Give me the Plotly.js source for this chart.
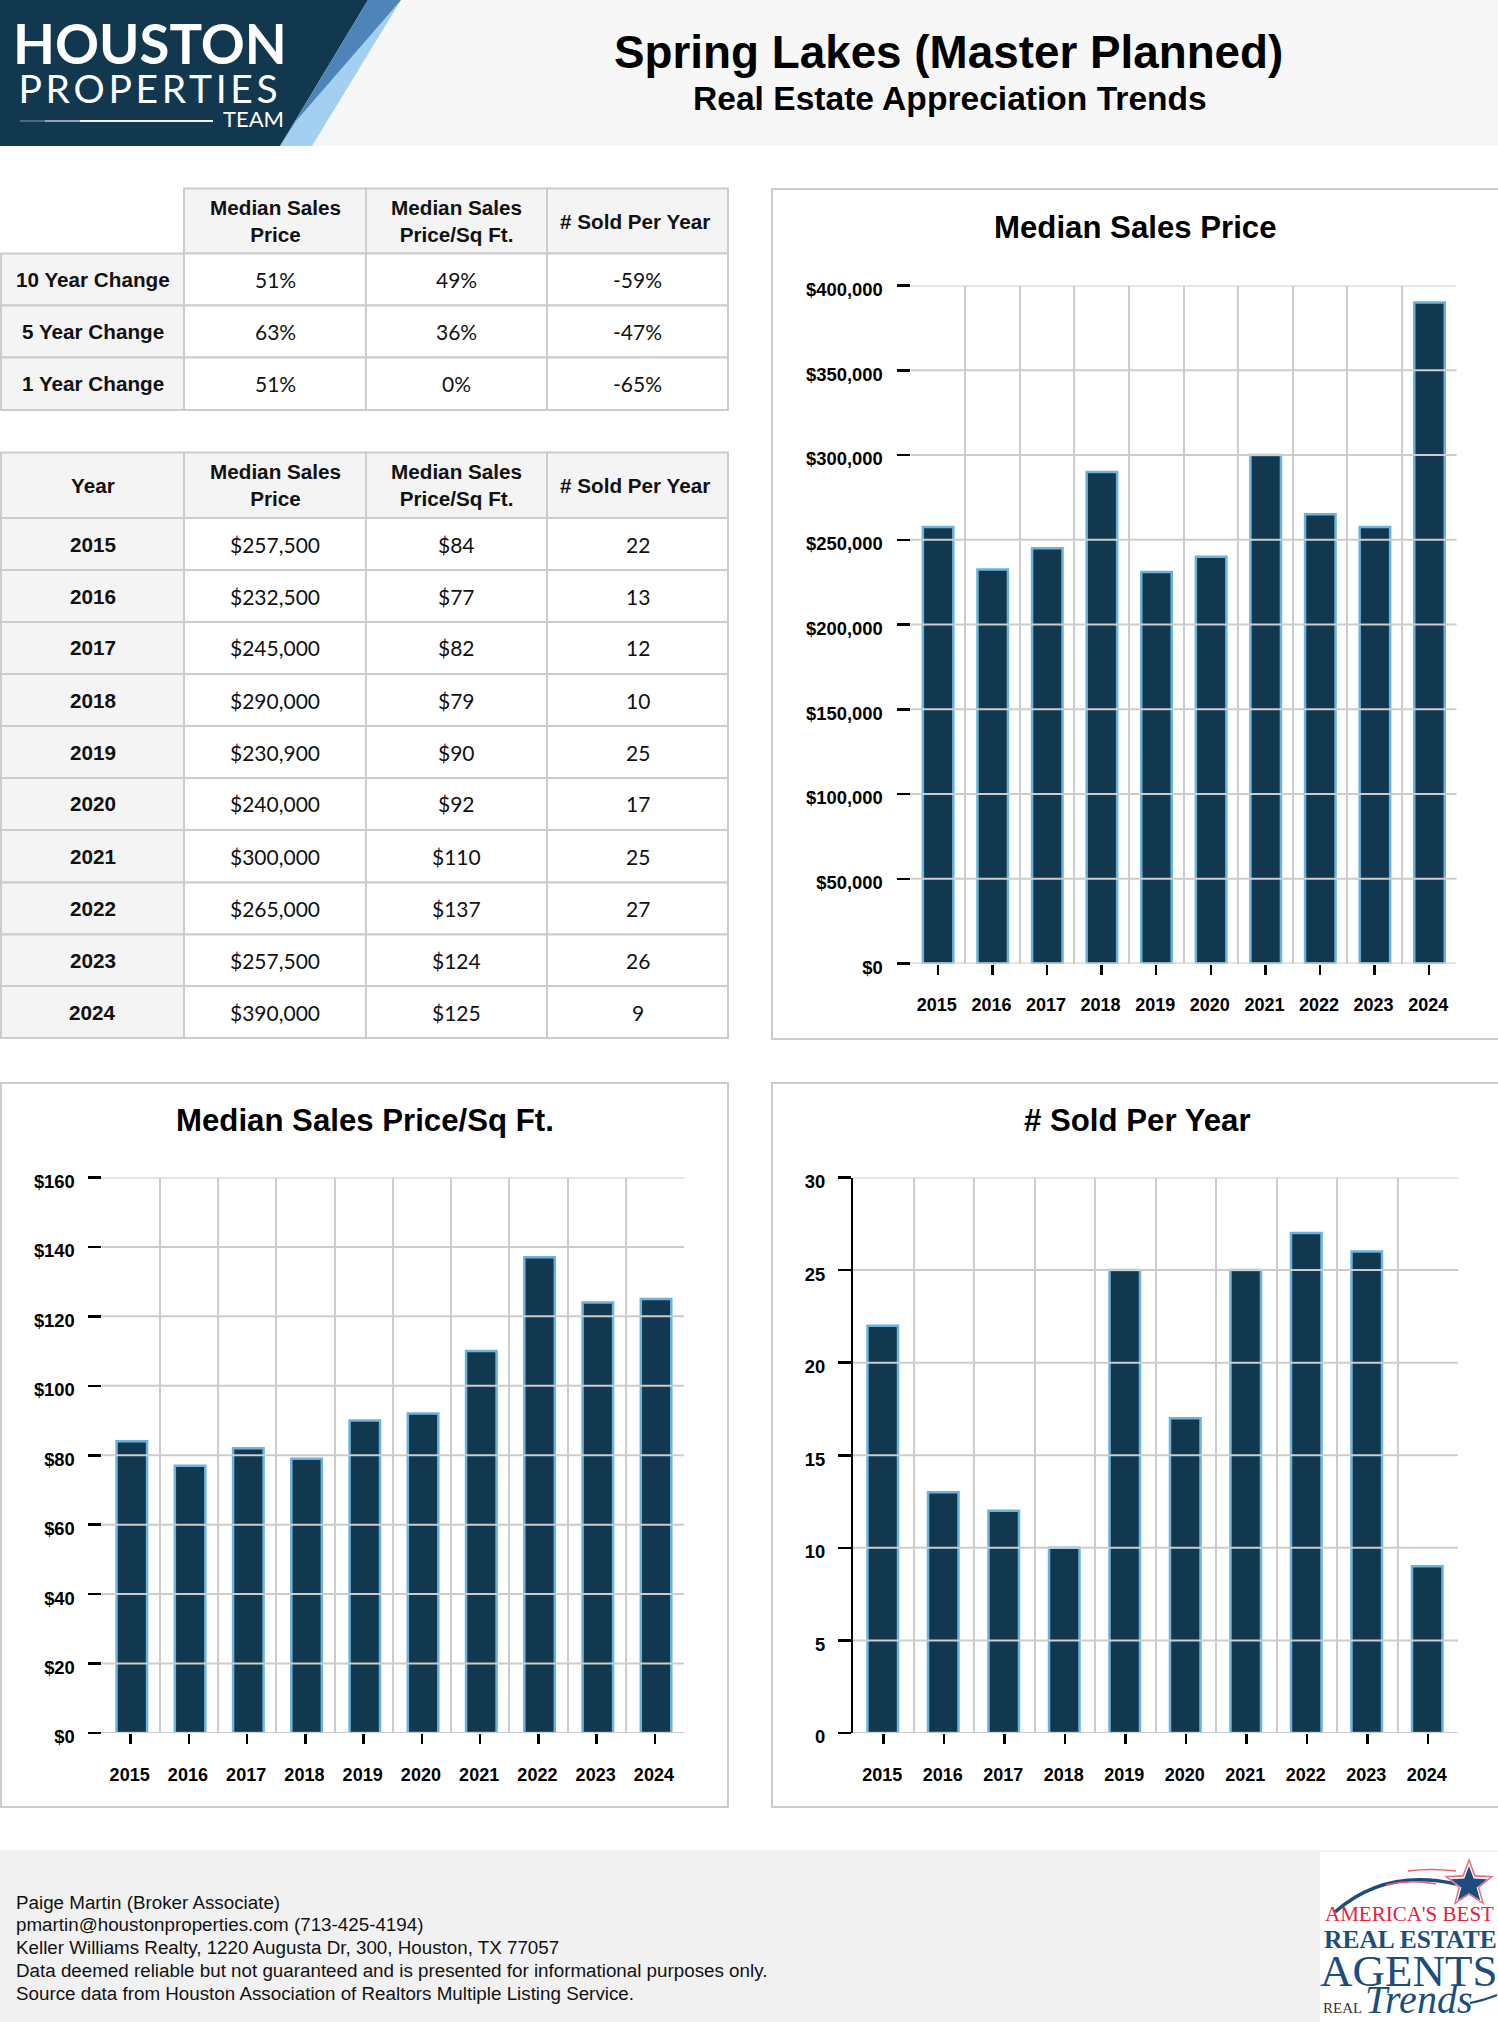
<!DOCTYPE html>
<html><head><meta charset="utf-8">
<script src="https://cdn.plot.ly/plotly-3.0.1.min.js"></script>
<style>
html,body{margin:0;padding:0;background:#fff;overflow:hidden}
#chart{width:1498px;height:2022px}
.annotation[data-index="1"] text{letter-spacing:3.7px}
</style></head><body><div id="chart"></div>
<script>
// ---- data ----
const years = [2015,2016,2017,2018,2019,2020,2021,2022,2023,2024];
const medianPrice = [257500,232500,245000,290000,230900,240000,300000,265000,257500,390000];
const pricePerSqFt = [84,77,82,79,90,92,110,137,124,125];
const soldPerYear = [22,13,12,10,25,17,25,27,26,9];
const priceTicks = [0,50000,100000,150000,200000,250000,300000,350000,400000];
const priceTickText = ['$0','$50,000','$100,000','$150,000','$200,000','$250,000','$300,000','$350,000','$400,000'];
const sqftTicks = [0,20,40,60,80,100,120,140,160];
const sqftTickText = ['$0','$20','$40','$60','$80','$100','$120','$140','$160'];
const soldTicks = [0,5,10,15,20,25,30];
const soldTickText = ['0','5','10','15','20','25','30'];
const changeLabels = ['10 Year Change','5 Year Change','1 Year Change'];
const changePrice = ['51%','63%','51%'];
const changeSqft = ['49%','36%','0%'];
const changeSold = ['-59%','-47%','-65%'];
const priceText = ['$257,500','$232,500','$245,000','$290,000','$230,900','$240,000','$300,000','$265,000','$257,500','$390,000'];
const sqftText = ['$84','$77','$82','$79','$90','$92','$110','$137','$124','$125'];
const soldText = ['22','13','12','10','25','17','25','27','26','9'];
const colHeads = ['Median Sales<br>Price','Median Sales<br>Price/Sq Ft.','# Sold Per Year'];
const footerLines = ['Paige Martin (Broker Associate)','pmartin@houstonproperties.com (713-425-4194)','Keller Williams Realty, 1220 Augusta Dr, 300, Houston, TX 77057','Data deemed reliable but not guaranteed and is presented for informational purposes only.','Source data from Houston Association of Realtors Multiple Listing Service.'];

// ---- page helpers ----
const W = 1498, H = 2022;
const fx = x => x / W, fy = y => 1 - y / H;
const SANS = 'Liberation Sans, Arial, sans-serif', SERIF = 'Liberation Serif, serif', LATO = 'Lato, sans-serif';
const GRID = '#cccccc', NAVY = '#12384f', EDGE = '#6ab3dd';
const shapes = [], annotations = [];
const rect = (x0,y0,x1,y1,fill,line,lw,layer) => shapes.push({type:'rect',xref:'paper',yref:'paper',x0:fx(x0),x1:fx(x1),y0:fy(y0),y1:fy(y1),fillcolor:fill,line:{color:line||fill,width:lw||0},layer:layer||'below'});
const poly = (pts,fill,layer) => shapes.push({type:'path',xref:'paper',yref:'paper',path:'M'+pts.map(p=>fx(p[0])+' '+fy(p[1])).join('L')+'Z',fillcolor:fill,line:{width:0},layer:layer||'below'});
const curve = (a,c,b,col,w) => shapes.push({type:'path',xref:'paper',yref:'paper',path:`M${fx(a[0])} ${fy(a[1])}Q${fx(c[0])} ${fy(c[1])} ${fx(b[0])} ${fy(b[1])}`,line:{color:col,width:w},layer:'below'});
const label = (text,x,y,size,opts={}) => annotations.push({text,xref:'paper',yref:'paper',x:fx(x),y:fy(y),showarrow:false,xanchor:opts.anchor||'center',yanchor:'middle',align:opts.anchor||'center',
  font:Object.assign({family:opts.family||SANS,size,color:opts.color||'#000',weight:opts.weight||400},opts.font||{})});

// ---- banner ----
rect(0,0,W,146,'#f7f7f7');
poly([[0,0],[368,0],[280,146],[0,146]],NAVY);
poly([[368,0],[401,0],[296,146],[280,146]],'#4f84b8');
poly([[401,0],[312,146],[280,146],[296,121]],'#a3d0f1');
label('HOUSTON',150,43,54.5,{family:LATO,color:'#fff',weight:700});
label('PROPERTIES',150,88,39,{family:LATO,color:'#fff'});
label('TEAM',253,118,22,{family:LATO,color:'#fff'});
rect(80,120,213,122,'#eef2f5');
rect(45,120,80,122,'#8fa5b3');
rect(20,120,45,122,'#4a6a7e');
label('Spring Lakes (Master Planned)',948.5,52,45.8,{weight:700});
label('Real Estate Appreciation Trends',950,99,33.6,{weight:700});

// ---- chart panels ----
rect(772,189,1530,1039,'#fff',GRID,2);
rect(1,1083,728,1807,'#fff',GRID,2);
rect(772,1083,1530,1807,'#fff',GRID,2);
label('Median Sales Price',1135,227,31.2,{weight:700});
label('Median Sales Price/Sq Ft.',365,1120,31.2,{weight:700});
label('# Sold Per Year',1137,1120,31.2,{weight:700});

// ---- tables ----
const colEdges = [1,184,366,547,728];
function drawTable(rowEdges,head,rows){
  const all = [head].concat(rows);
  all.forEach((row,r)=>row.forEach((val,c)=>{
    const blank = r===0 && !val;
    const x0=colEdges[c],x1=colEdges[c+1],y0=rowEdges[r],y1=rowEdges[r+1];
    if(!blank) rect(x0,y0,x1,y1,(r===0||c===0)?'#f4f4f4':'#fff',GRID,2);
    if(val){
      const isBold = r===0||c===0;
      label(val,(x0+x1)/2-(r===0&&c===3?2.5:0),(y0+y1)/2,isBold?20.7:21,{family:isBold?SANS:LATO,color:'#111',weight:isBold?700:400});
    }
  }));
}
const zipRows = (a,b,c,d)=>a.map((v,i)=>[v,b[i],c[i],d[i]]);
drawTable([188.5,253.5,305.5,357.5,410],[''].concat(colHeads),zipRows(changeLabels,changePrice,changeSqft,changeSold));
drawTable([452.5,518,570,622,674,726,778,830,882.5,934.5,986,1038],['Year'].concat(colHeads),zipRows(years.map(String),priceText,sqftText,soldText));

// ---- footer ----
rect(0,1850,W,H,'#f1f1f1');
rect(1320,1852,W,H,'#fff');
footerLines.forEach((t,i)=>label(t,14,[1902,1924.5,1947.5,1970.5,1993.5][i],18.8,{anchor:'left',color:'#111'}));
// award badge
const RED='#e8203f', BLUE='#1c4d7c';
curve([1335,1912],[1385,1868],[1456,1884],BLUE,3.5);
curve([1408,1871],[1430,1868],[1456,1871],'#ef5a72',1.5);
curve([1386,1885],[1410,1879],[1436,1884],'#ef5a72',1.5);
curve([1470,2003],[1485,2000],[1497,1995],BLUE,2);
const star=(cx,cy,R,r)=>Array.from({length:10},(_,i)=>{const a=-Math.PI/2+i*Math.PI/5,q=i%2?r:R;return [cx+q*Math.cos(a),cy+q*Math.sin(a)];});
poly(star(1469,1884,26,11),'#ef6a80');
poly(star(1469,1884,22,9),'#fff');
poly(star(1469,1885,19,8),BLUE);
label("AMERICA'S BEST",1409,1914,21,{family:SERIF,color:RED,font:{variant:'small-caps'}});
label('REAL ESTATE',1410,1939,25.5,{family:SERIF,color:BLUE,font:{variant:'small-caps',weight:700}});
label('AGENTS',1409,1971,45,{family:SERIF,color:BLUE});
label('REAL',1342,2008,15,{family:SERIF,color:'#333'});
label('Trends',1418,1999,40,{family:SERIF,color:BLUE,font:{style:'italic'}});

// ---- axes ----
function addChart(idx,values,ticks,tickText,px,barPx,shiftPx,standoff,blackAxis){
  const sfx = idx===1?'':String(idx);
  const [l,r,t,b] = px;
  const band = (r-l)/years.length, barW = barPx/band;
  const x = {domain:[fx(l),fx(r)],range:[2014.5,2024.5],type:'linear',anchor:'y'+sfx,
    tickmode:'array',tickvals:years,ticktext:years.map(String),ticks:'outside',ticklen:10,tickwidth:2.5,tickcolor:'#000',
    showgrid:false,zeroline:false,showline:false,
    minor:{tick0:2014.5,dtick:1,showgrid:true,gridcolor:GRID,gridwidth:2,ticks:''},
    tickfont:{family:SANS,size:18,color:'#000',weight:700},ticklabelstandoff:15,ticklabelshift:-1};
  const y = {domain:[fy(b),fy(t)],range:[0,ticks[ticks.length-1]],anchor:'x'+sfx,
    tickmode:'array',tickvals:ticks,ticktext:tickText,ticks:'outside',ticklen:13,tickwidth:2.5,tickcolor:'#000',
    showgrid:false,zeroline:false,showline:!!blackAxis,linecolor:'#000',linewidth:2,
    tickfont:{family:SANS,size:18.4,color:'#000',weight:700},ticklabelstandoff:standoff,ticklabelshift:4};
  layout['xaxis'+sfx]=x; layout['yaxis'+sfx]=y;
  ticks.forEach(v=>shapes.push({type:'line',xref:'x'+sfx+' domain',yref:'y'+sfx,x0:0,x1:1,y0:v,y1:v,line:{color:GRID,width:2},layer:'above'}));
  traces.push({type:'bar',x:years,y:values,xaxis:'x'+sfx,yaxis:'y'+sfx,width:barW,offset:-barW/2+shiftPx/band,
    marker:{color:NAVY,line:{color:EDGE,width:2.5}},hoverinfo:'x+y',showlegend:false});
}
const traces = [];
const layout = {width:W,height:H,autosize:false,margin:{l:0,r:0,t:0,b:0,pad:0},paper_bgcolor:'#fff',plot_bgcolor:'rgba(0,0,0,0)',showlegend:false,shapes,annotations,bargap:0};
addChart(1,medianPrice,priceTicks,priceTickText,[910.5,1456.5,285.5,963.5],30.5,0.3,10);
addChart(2,pricePerSqFt,sqftTicks,sqftTickText,[101.5,684,1177.5,1733],30.5,1.2,9);
addChart(3,soldPerYear,soldTicks,soldTickText,[853,1458,1177.5,1733],30.5,-0.5,9,true);

Plotly.newPlot('chart',traces,layout,{displayModeBar:false,staticPlot:true});
</script></body></html>
